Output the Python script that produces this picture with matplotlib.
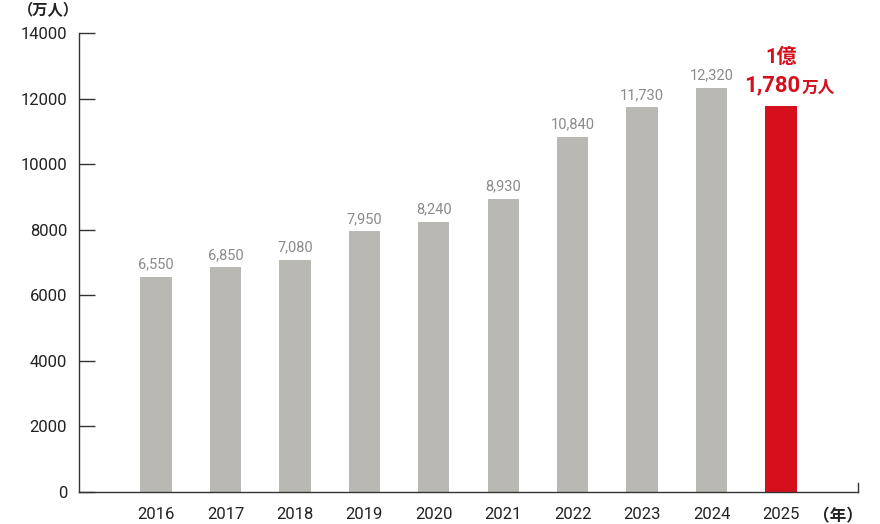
import matplotlib.pyplot as plt

plt.rcParams['font.family'] = ['Roboto', 'Noto Sans CJK JP', 'DejaVu Sans']

years = ['2016', '2017', '2018', '2019', '2020', '2021', '2022', '2023', '2024', '2025']
visitors = [6550, 6850, 7080, 7950, 8240, 8930, 10840, 11730, 12320, 11780]
yticks = [0, 2000, 4000, 6000, 8000, 10000, 12000, 14000]

grey = '#b9b8b2'
red = '#d50f1c'
axis_col = '#333333'

fig = plt.figure(figsize=(8.8, 5.24), dpi=100)
ax = fig.add_axes([0.0898, 0.0611, 0.8852, 0.8759])

x = list(range(len(years)))
colors = [grey] * (len(years) - 1) + [red]
ax.bar(x, visitors, width=0.45, color=colors, zorder=2)

for i, v in enumerate(visitors[:-1]):
    ax.annotate(f'{v:,}', (i, v), xytext=(0, 4), textcoords='offset points',
                ha='center', va='bottom', fontsize=10.5, color='#8a8a8a')

# highlighted last value
last = len(visitors) - 1
ax.annotate('1億', (last, visitors[-1]), xytext=(0, 28), textcoords='offset points',
            ha='center', va='bottom', fontsize=14.5, color=red, fontweight='bold')
t = ax.annotate('1,780', (last, visitors[-1]), xytext=(14, 7), textcoords='offset points',
                ha='right', va='bottom', fontsize=16, color=red, fontweight='bold')
ax.annotate('万人', xy=(1, 0), xycoords=t, xytext=(1, 0), textcoords='offset points',
            ha='left', va='bottom', fontsize=12, color=red, fontweight='bold')

ax.set_xlim(-1.11, len(years) - 1 + 1.11)
ax.set_ylim(0, 14000)
ax.set_yticks(yticks)
ax.set_xticks(x)
ax.set_xticklabels(years)

ax.spines['top'].set_visible(False)
ax.spines['right'].set_bounds(0, 260)
for s in ['left', 'bottom', 'right']:
    ax.spines[s].set_color(axis_col)
    ax.spines[s].set_linewidth(1)

ax.tick_params(axis='y', direction='in', length=11.5, width=1, color=axis_col,
               pad=8.5, labelsize=12, labelcolor='#222222')
ax.tick_params(axis='x', length=0, pad=11, labelsize=12, labelcolor='#222222')

fig.text(18 / 880, 1 - 11 / 524, '（万人）', ha='left', va='center', fontsize=11,
         color='#222222', fontweight='bold')
fig.text(813 / 880, 1 - 516 / 524, '（年）', ha='left', va='center', fontsize=12,
         color='#222222', fontweight='bold')

fig.savefig('out.png', dpi=100)
